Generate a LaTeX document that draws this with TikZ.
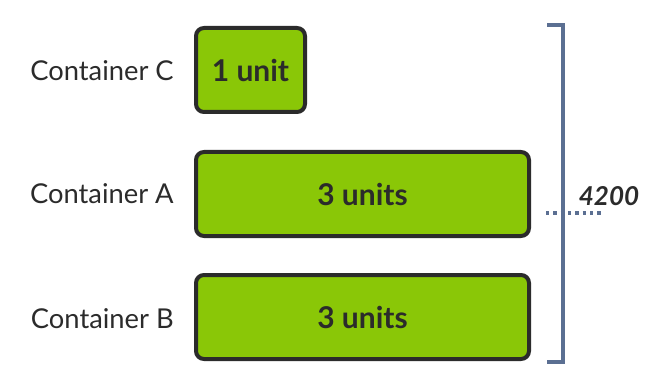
\documentclass[tikz,border=0pt]{standalone}
\usepackage{fontspec}
\setmainfont{Lato}
\definecolor{boxgreen}{HTML}{8AC707}
\definecolor{boxedge}{HTML}{2B2B2B}
\definecolor{brack}{HTML}{5B6F92}
\definecolor{txt}{HTML}{2B2B2B}
\begin{document}
\begin{tikzpicture}[x=0.75pt,y=-0.75pt,
  unitbox/.style={draw=boxedge,fill=boxgreen,line width=3pt,rounded corners=6pt,inner sep=0pt,
    minimum height=63pt,font=\fontsize{22.5}{26}\selectfont\bfseries,text=txt},
  lbl/.style={font=\fontsize{20.5}{24}\selectfont,text=txt,anchor=east,inner sep=0pt},
  brk/.style={draw=brack,line width=2.4pt}]
\useasboundingbox (0,0) rectangle (666,388);
\node[unitbox,minimum width=81.75pt] (c) at (250.5,70) {1 unit};
\node[unitbox,minimum width=249.75pt] (a) at (362.5,194) {3 units};
\node[unitbox,minimum width=249.75pt] (b) at (362.5,317) {3 units};
\node[lbl] (lc) at (174,71) {Container C};
\node[lbl] (la) at (174,194) {Container A};
\node[lbl] (lb) at (174,319) {Container B};
\coordinate (t1) at (547,25);
\coordinate (t2) at (563,25);
\coordinate (b2) at (563,362);
\coordinate (b1) at (547,362);
\draw[brk] (t1) -- (t2) -- (b2) -- (b1);
\coordinate (d1) at (546,213);
\coordinate (d2) at (603,213);
\draw[draw=brack,line width=2.4pt,dash pattern=on 2.5pt off 3pt] (d1) -- (d2);
\node[font=\fontsize{19.5}{22}\selectfont\itshape\bfseries,text=txt,inner sep=0pt] (n) at (609,196) {4200};
\end{tikzpicture}
\end{document}
